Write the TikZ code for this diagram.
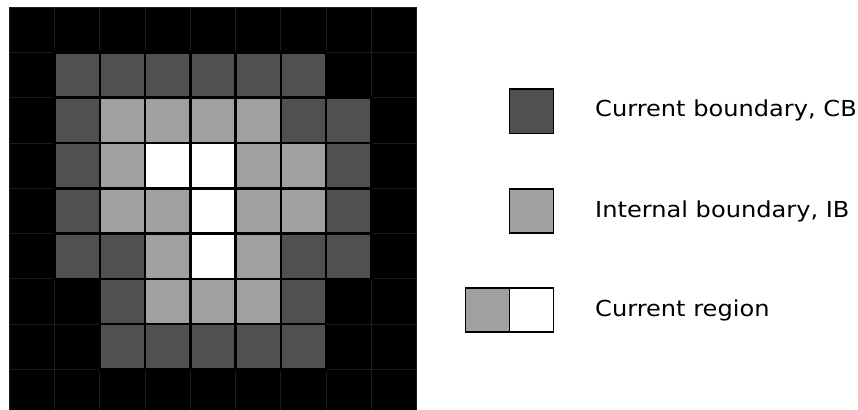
\documentclass[tikz,border=0pt]{standalone}
\usepackage{fontspec}
\setmainfont{DejaVu Sans}
\newfontfamily\legfont[FakeStretch=1.095]{DejaVu Sans}
\begin{document}
\begin{tikzpicture}[x=1pt,y=-1pt,
  cellK/.style={fill=black,draw=gridline,line width=0.8pt},
  cellD/.style={fill=cbgray,draw=black,line width=2.6pt},
  cellL/.style={fill=ibgray,draw=black,line width=2.6pt},
  cellW/.style={fill=white,draw=black,line width=2.6pt},
  legbox/.style={draw=black,line width=1.6pt,minimum width=44pt,minimum height=44pt,inner sep=0pt,outer sep=0pt},
  legtext/.style={anchor=base west,inner sep=0pt,font=\legfont\fontsize{22}{26}\selectfont}]
\definecolor{cbgray}{HTML}{505050}
\definecolor{ibgray}{HTML}{A0A0A0}
\definecolor{gridline}{HTML}{1C1C1C}
\useasboundingbox (0,0) rectangle (858,409);
\def\cs{45.25}
\def\ox{9.3}
\def\oy{7.3}
\begin{scope}
\clip (0,0) rectangle (858,409);
\foreach \r in {0,...,8}{
  \foreach \c in {0,...,8}{
    \path[cellK] ({\ox+\c*\cs},{\oy+\r*\cs}) rectangle ++(\cs,\cs);
  }
}
\foreach \r/\c in {1/1,1/2,1/3,1/4,1/5,1/6,2/1,2/6,2/7,3/1,3/7,4/1,4/7,5/1,5/2,5/6,5/7,6/2,6/6,7/2,7/3,7/4,7/5,7/6}{
  \path[cellD] ({\ox+\c*\cs},{\oy+\r*\cs}) rectangle ++(\cs,\cs);
}
\foreach \r/\c in {2/2,2/3,2/4,2/5,3/2,3/5,3/6,4/2,4/3,4/5,4/6,5/3,5/5,6/3,6/4,6/5}{
  \path[cellL] ({\ox+\c*\cs},{\oy+\r*\cs}) rectangle ++(\cs,\cs);
}
\foreach \r/\c in {3/3,3/4,4/4,5/4}{
  \path[cellW] ({\ox+\c*\cs},{\oy+\r*\cs}) rectangle ++(\cs,\cs);
}
\end{scope}
% legend
\node[legbox,fill=cbgray] (cb) at (531.3,111.3) {};
\node[legbox,fill=ibgray] (ib) at (531.3,210.8) {};
\node[legbox,fill=ibgray] (cr1) at (487.3,310) {};
\node[legbox,fill=white] (cr2) at (531.3,310) {};
\node[legtext] (tcb) at (595,116.7) {Current boundary, CB};
\node[legtext] (tib) at (595,217.2) {Internal boundary, IB};
\node[legtext] (tcr) at (595,316.6) {Current region};
\end{tikzpicture}
\end{document}
